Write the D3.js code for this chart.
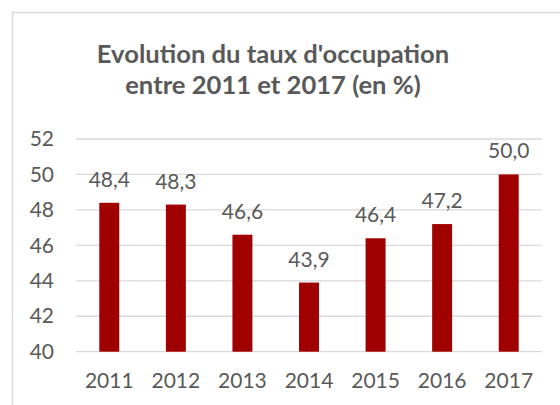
<!DOCTYPE html>
<html>
<head>
<meta charset="utf-8">
<script src="https://cdn.jsdelivr.net/npm/d3@7"></script>
<style>
  body { margin: 0; background: #fff; }
  svg text { font-family: Lato, "Open Sans", sans-serif; fill: #595959; }
</style>
</head>
<body>
<div id="chart"></div>
<script>
"use strict";

// data
var years = ["2011", "2012", "2013", "2014", "2015", "2016", "2017"];
var rates = [48.4, 48.3, 46.6, 43.9, 46.4, 47.2, 50.0];
var yTicks = [40, 42, 44, 46, 48, 50, 52];
var titleLines = ["Evolution du taux d'occupation", "entre 2011 et 2017 (en %)"];

var width = 560, height = 405;

var svg = d3.select("#chart").append("svg")
    .attr("width", width)
    .attr("height", height);

// chart frame (runs past the right and bottom edges)
svg.append("path")
    .attr("d", "M12.5,420 V12.5 H560")
    .attr("fill", "none")
    .attr("stroke", "#d9d9d9")
    .attr("stroke-width", 1.5);

// title
svg.append("g").selectAll("text")
    .data(titleLines)
    .enter().append("text")
    .attr("x", 273)
    .attr("y", function(d, i) { return 63 + i * 31; })
    .attr("text-anchor", "middle")
    .style("font-size", "25.6px")
    .style("font-weight", "bold")
    .text(function(d) { return d; });

// scales
var x = d3.scaleBand()
    .domain(years)
    .range([76, 542])
    .paddingInner(0.7)
    .paddingOuter(0.35);

var y = d3.scaleLinear()
    .domain([40, 52])
    .range([351.7, 139]);

// gridlines
svg.append("g").selectAll("line")
    .data(yTicks)
    .enter().append("line")
    .attr("x1", 76)
    .attr("x2", 542)
    .attr("y1", function(d) { return y(d); })
    .attr("y2", function(d) { return y(d); })
    .attr("stroke", "#d9d9d9")
    .attr("stroke-width", 1.3);

// y axis labels
var yAxis = svg.append("g")
    .attr("transform", "translate(54,0)")
    .call(d3.axisLeft(y).tickValues(yTicks).tickSize(0).tickPadding(0));
yAxis.select(".domain").remove();
yAxis.selectAll("text")
    .style("font-size", "21px")
    .attr("fill", "#595959")
    .attr("font-family", "Lato");

// x axis labels
var xAxis = svg.append("g")
    .attr("transform", "translate(0," + y(40) + ")")
    .call(d3.axisBottom(x).tickSize(0).tickPadding(21));
xAxis.select(".domain").remove();
xAxis.selectAll("text")
    .style("font-size", "21px")
    .attr("fill", "#595959")
    .attr("font-family", "Lato");

// bars
svg.append("g").selectAll("rect")
    .data(rates)
    .enter().append("rect")
    .attr("x", function(d, i) { return x(years[i]); })
    .attr("y", function(d) { return y(d); })
    .attr("width", x.bandwidth())
    .attr("height", function(d) { return y(40) - y(d); })
    .attr("fill", "#a00000");

// value labels
var fmt = function(v) { return d3.format(".1f")(v).replace(".", ","); };
svg.append("g").selectAll("text")
    .data(rates)
    .enter().append("text")
    .attr("x", function(d, i) { return x(years[i]) + x.bandwidth() / 2; })
    .attr("y", function(d) { return y(d) - 16; })
    .attr("text-anchor", "middle")
    .style("font-size", "21px")
    .text(fmt);
</script>
</body>
</html>
